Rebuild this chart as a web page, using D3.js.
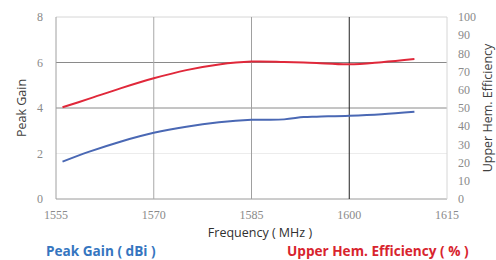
<!DOCTYPE html>
<html>
<head>
<meta charset="utf-8">
<script src="https://cdn.jsdelivr.net/npm/d3@7"></script>
<style>
	body { margin: 0; background: #fff; }
	svg { display: block; }
</style>
</head>
<body>
<svg id="chart" width="496" height="260"></svg>
<script>
// Data
const frequencies = [1556, 1560, 1565, 1570, 1575, 1580, 1585, 1590, 1593, 1595, 1600, 1605, 1610];
const peakGain = [1.64, 2.07, 2.53, 2.91, 3.18, 3.37, 3.48, 3.5, 3.6, 3.62, 3.66, 3.73, 3.84];
const efficiency = [50.4, 55.0, 60.9, 66.3, 70.8, 73.9, 75.5, 75.3, 75.0, 74.7, 74.0, 75.2, 76.9];

const freqTicks = [1555, 1570, 1585, 1600, 1615];
const gainTicks = [0, 2, 4, 6, 8];
const effTicks = [0, 10, 20, 30, 40, 50, 60, 70, 80, 90, 100];

const svgElement = document.getElementById("chart");
const svg = d3.select(svgElement);

const margin = { top: 17, right: 49, bottom: 61, left: 56 };
const width = 496 - margin.left - margin.right;
const height = 260 - margin.top - margin.bottom;

const x = d3.scaleLinear().domain([1555, 1615]).range([0, width]);
const yGain = d3.scaleLinear().domain([0, 8]).range([height, 0]);
const yEff = d3.scaleLinear().domain([0, 100]).range([height, 0]);

const plot = svg.append("g").attr("transform", `translate(${margin.left}, ${margin.top})`);

// Horizontal gridlines (4 and 6 are darker in the reference)
const hColor = { 0: "#9a9a9a", 2: "#ececec", 4: "#8a8a8a", 6: "#8a8a8a", 8: "#d6d6d6" };
plot.selectAll("line.hgrid")
	.data(gainTicks)
	.join("line")
	.attr("class", "hgrid")
	.attr("x1", 0)
	.attr("x2", width)
	.attr("y1", d => yGain(d))
	.attr("y2", d => yGain(d))
	.attr("stroke", d => hColor[d])
	.attr("stroke-width", 1);

// Vertical gridlines
const vColor = { 1555: "#a0a0a0", 1570: "#a8a8a8", 1585: "#a0a0a0", 1600: "#222", 1615: "#d6d6d6" };
plot.selectAll("line.vgrid")
	.data(freqTicks)
	.join("line")
	.attr("class", "vgrid")
	.attr("x1", d => x(d))
	.attr("x2", d => x(d))
	.attr("y1", 0)
	.attr("y2", height)
	.attr("stroke", d => vColor[d])
	.attr("stroke-width", 1);

// Tick labels
const tickFont = "'Liberation Serif', serif";
plot.selectAll("text.xtick")
	.data(freqTicks)
	.join("text")
	.attr("class", "xtick")
	.attr("x", d => x(d))
	.attr("y", height + 20)
	.attr("text-anchor", "middle")
	.attr("font-family", tickFont)
	.attr("font-size", 12)
	.attr("fill", "#8a8a8a")
	.text(d => d);

plot.selectAll("text.ytick")
	.data(gainTicks)
	.join("text")
	.attr("class", "ytick")
	.attr("x", -16)
	.attr("y", d => yGain(d))
	.attr("dy", "0.35em")
	.attr("text-anchor", "middle")
	.attr("font-family", tickFont)
	.attr("font-size", 12)
	.attr("fill", "#8a8a8a")
	.text(d => d);

plot.selectAll("text.ytick2")
	.data(effTicks)
	.join("text")
	.attr("class", "ytick2")
	.attr("x", width + 11)
	.attr("y", d => yEff(d))
	.attr("dy", "0.35em")
	.attr("text-anchor", "start")
	.attr("font-family", tickFont)
	.attr("font-size", 12)
	.attr("fill", "#8a8a8a")
	.text(d => d);

// Lines
const gainLine = d3.line()
	.x((d, i) => x(frequencies[i]))
	.y(d => yGain(d))
	.curve(d3.curveCatmullRom);

const effLine = d3.line()
	.x((d, i) => x(frequencies[i]))
	.y(d => yEff(d))
	.curve(d3.curveCatmullRom);

plot.append("path")
	.datum(efficiency)
	.attr("d", effLine)
	.attr("fill", "none")
	.attr("stroke", "#e0283a")
	.attr("stroke-width", 2);

plot.append("path")
	.datum(peakGain)
	.attr("d", gainLine)
	.attr("fill", "none")
	.attr("stroke", "#4a68b4")
	.attr("stroke-width", 2);

// Axis titles
const titleFont = "'Open Sans', sans-serif";
svg.append("text")
	.attr("transform", `translate(26, ${margin.top + height / 2}) rotate(-90)`)
	.attr("text-anchor", "middle")
	.attr("font-family", titleFont)
	.attr("font-size", 12.5)
	.attr("fill", "#404040")
	.text("Peak Gain");

svg.append("text")
	.attr("transform", `translate(492, ${margin.top + height / 2}) rotate(-90)`)
	.attr("text-anchor", "middle")
	.attr("font-family", titleFont)
	.attr("font-size", 12.5)
	.attr("fill", "#404040")
	.text("Upper Hem. Efficiency");

svg.append("text")
	.attr("x", 260)
	.attr("y", 237)
	.attr("text-anchor", "middle")
	.attr("font-family", titleFont)
	.attr("font-size", 12.5)
	.attr("fill", "#303030")
	.text("Frequency ( MHz )");

// Legend labels
svg.append("text")
	.attr("x", 46)
	.attr("y", 256)
	.attr("font-family", titleFont)
	.attr("font-size", 13.6)
	.attr("font-weight", "bold")
	.attr("fill", "#3575c0")
	.text("Peak Gain ( dBi )");

svg.append("text")
	.attr("x", 287)
	.attr("y", 256)
	.attr("font-family", titleFont)
	.attr("font-size", 13.6)
	.attr("font-weight", "bold")
	.attr("fill", "#d8242e")
	.text("Upper Hem. Efficiency ( % )");
</script>
</body>
</html>
